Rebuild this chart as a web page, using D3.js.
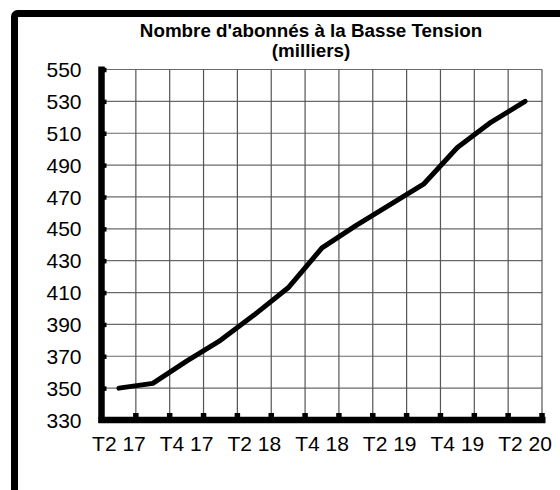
<!DOCTYPE html>
<html>
<head>
<meta charset="utf-8">
<script src="https://cdn.jsdelivr.net/npm/d3@7"></script>
<style>
body { margin: 0; background: #fff; }
svg { display: block; font-family: "Liberation Sans", Arial, sans-serif; }
</style>
</head>
<body>
<svg id="chart" width="560" height="490"></svg>
<script>
// data (milliers d'abonnés)
var quarters = ['T2 17','T3 17','T4 17','T1 18','T2 18','T3 18','T4 18',
                'T1 19','T2 19','T3 19','T4 19','T1 20','T2 20'];
var abonnes = [350, 353, 367, 380, 396, 413, 438, 452, 465, 478, 501, 517, 530];
var yTicks = [330, 350, 370, 390, 410, 430, 450, 470, 490, 510, 530, 550];
var titleLines = ["Nombre d'abonnés à la Basse Tension", "(milliers)"];

var svg = d3.select('#chart');

// frame, runs off the right and bottom edges
svg.append('rect')
	.attr('x', 14.5).attr('y', 13.5)
	.attr('width', 620).attr('height', 620)
	.attr('rx', 3)
	.attr('fill', 'none')
	.attr('stroke', 'black')
	.attr('stroke-width', 7);

var x = d3.scaleBand().domain(quarters).range([102, 542]).padding(0);
var y = d3.scaleLinear().domain([330, 550]).range([420, 69.5]);

// title
svg.selectAll('text.title')
	.data(titleLines)
  .enter().append('text')
	.attr('class', 'title')
	.attr('x', 311)
	.attr('y', function(d, i){ return 37 + i * 20; })
	.attr('text-anchor', 'middle')
	.attr('font-weight', 'bold')
	.attr('font-size', '18.8px')
	.text(function(d){ return d; });

// grid
var bounds = quarters.slice(1).map(function(d){ return x(d); }).concat([x.range()[1]]);
svg.append('g').selectAll('line')
	.data(yTicks.slice(1))
  .enter().append('line')
	.attr('x1', 102).attr('x2', 542)
	.attr('y1', function(d){ return y(d); })
	.attr('y2', function(d){ return y(d); })
	.attr('stroke', '#6a6a6a')
	.attr('stroke-width', 1.2);
svg.append('g').selectAll('line')
	.data(bounds)
  .enter().append('line')
	.attr('x1', function(d){ return d; })
	.attr('x2', function(d){ return d; })
	.attr('y1', y(550)).attr('y2', y(330))
	.attr('stroke', '#555')
	.attr('stroke-width', 1.2);

// line
var line = d3.line()
	.x(function(d, i){ return x(quarters[i]) + x.bandwidth() / 2; })
	.y(function(d){ return y(d); });
svg.append('path')
	.datum(abonnes)
	.attr('d', line)
	.attr('fill', 'none')
	.attr('stroke', 'black')
	.attr('stroke-width', 5)
	.attr('stroke-linejoin', 'round')
	.attr('stroke-linecap', 'round');

// y axis
var yAxis = svg.append('g')
	.attr('transform', 'translate(101.5,0)')
	.call(d3.axisLeft(y).tickValues(yTicks).tickSizeInner(-5).tickSizeOuter(0).tickPadding(20));
yAxis.select('.domain')
	.attr('stroke-width', 6.5)
	.attr('d', 'M0,' + (y(550) - 3) + 'V' + (y(330) + 3));
yAxis.selectAll('.tick line').attr('stroke-width', 4.5);
yAxis.selectAll('.tick text')
	.attr('font-size', '21px')
	.attr('fill', 'black')
	.attr('dy', '0.34em');

// x axis: labels every other quarter, centred in the band
var xAxis = svg.append('g')
	.attr('transform', 'translate(0,420)')
	.call(d3.axisBottom(x).tickSize(0).tickPadding(16)
		.tickFormat(function(d, i){ return i % 2 == 0 ? d : ''; }));
xAxis.select('.domain')
	.attr('stroke-width', 6.5)
	.attr('d', 'M98.5,0H545.5');
xAxis.selectAll('.tick text')
	.attr('font-size', '21px')
	.attr('fill', 'black');

// x tick marks on the band boundaries
xAxis.append('g').selectAll('line')
	.data(bounds)
  .enter().append('line')
	.attr('x1', function(d){ return d; })
	.attr('x2', function(d){ return d; })
	.attr('y1', 0).attr('y2', -7)
	.attr('stroke', 'black')
	.attr('stroke-width', 5.5);
</script>
</body>
</html>
